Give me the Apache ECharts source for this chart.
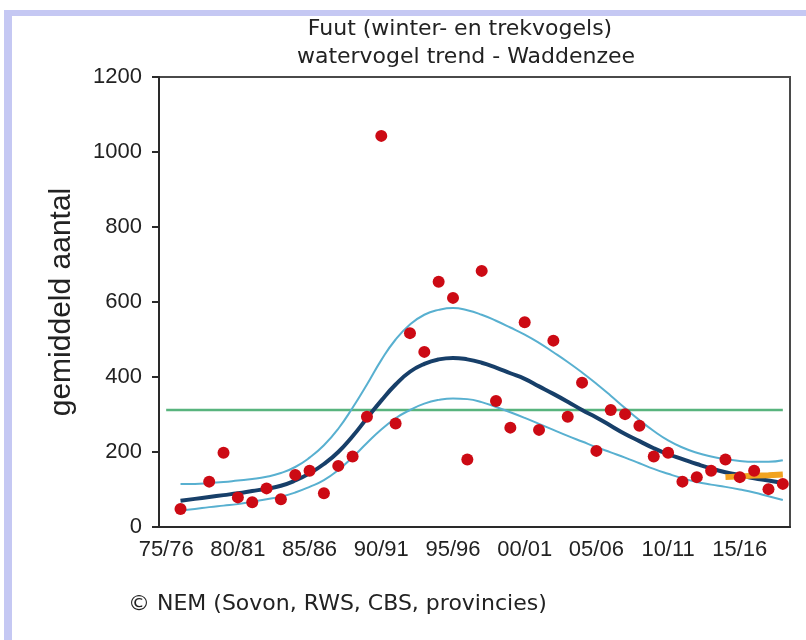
<!DOCTYPE html>
<html>
<head>
<meta charset="utf-8">
<script src="https://cdn.jsdelivr.net/npm/echarts@6/dist/echarts.min.js"></script>
<style>
  html, body { margin: 0; padding: 0; background: #fff; }
  #main { width: 806px; height: 640px; }
</style>
</head>
<body>
<div id="main"></div>
<script>
// seizoenen 1975/76 .. 2018/19
var years = [];
for (var y = 1975; y <= 2018; y++) years.push(y);

var seasonLabels = years.map(function (y) {
    var a = String(y).slice(2), b = String(y + 1).slice(2);
    return a + '/' + b;
});

// getelde aantallen (rode punten)
var counts = [null, 48, null, 121, 198, 79, 66, 103, 74, 139,
              150, 90, 163, 188, 294, 1043, 276, 517, 467, 654,
              611, 180, 683, 336, 265, 546, 259, 497, 294, 385,
              203, 312, 301, 270, 188, 198, 121, 133, 150, 180,
              133, 150, 101, 115];

// trendlijn
var trend = [null, 70, 75, 80, 85, 90, 96, 102, 110, 124,
             143, 168, 200, 242, 290, 337, 380, 414, 435, 447,
             451, 447, 438, 425, 410, 395, 375, 355, 334, 312,
             292, 270, 248, 229, 210, 194, 181, 168, 156, 146,
             138, 130, 124, 117];

// betrouwbaarheidsband boven / onder
var upper = [null, 115, 115, 117, 120, 124, 128, 134, 144, 160,
             185, 218, 262, 318, 380, 445, 500, 540, 566, 579,
             584, 578, 566, 550, 532, 513, 491, 466, 440, 412,
             382, 350, 317, 285, 256, 231, 212, 198, 188, 181,
             176, 174, 174, 178];
var lower = [null, 44, 48, 53, 57, 61, 67, 74, 81, 92,
             107, 125, 152, 186, 224, 260, 290, 312, 329, 339,
             343, 341, 333, 320, 306, 291, 275, 259, 243, 228,
             213, 199, 185, 170, 155, 142, 130, 120, 113, 107,
             100, 92, 82, 72];

// referentieniveau (groene lijn)
var referenceLevel = 312;
var reference = years.map(function () { return referenceLevel; });

// korte oranje lijn, laatste seizoenen 2014/15 .. 2018/19
var recentValues = [133, 135, 137, 138, 140];
var recent = years.map(function (y) {
    return y >= 2014 ? recentValues[y - 2014] : null;
});

var yTicks = { min: 0, max: 1200, interval: 200 };

var labelFont = '"Liberation Sans", Arial';
var textFont = '"DejaVu Sans", Verdana';

var myChart = echarts.init(document.getElementById('main'));
myChart.setOption({
    backgroundColor: '#ffffff',
    animation: false,
    grid: {
        left: 159, right: 16, top: 77, bottom: 113,
        show: true, borderColor: '#4a4a4a', borderWidth: 2,
        backgroundColor: 'transparent'
    },
    graphic: [
        { type: 'rect', shape: { x: 4, y: 10, width: 802, height: 6 }, style: { fill: '#c5c8f3' } },
        { type: 'rect', shape: { x: 4, y: 10, width: 8, height: 630 }, style: { fill: '#c5c8f3' } },
        {
            type: 'text', x: 460, y: 29,
            style: {
                text: 'Fuut (winter- en trekvogels)', align: 'center', verticalAlign: 'middle',
                fontFamily: textFont, fontSize: 22, fill: '#222'
            }
        },
        {
            type: 'text', x: 466, y: 57,
            style: {
                text: 'watervogel trend - Waddenzee', align: 'center', verticalAlign: 'middle',
                fontFamily: textFont, fontSize: 22, fill: '#222'
            }
        },
        {
            type: 'text', x: 128, y: 604,
            style: {
                text: '\u00a9 NEM (Sovon, RWS, CBS, provincies)', align: 'left', verticalAlign: 'middle',
                fontFamily: textFont, fontSize: 22, fill: '#222'
            }
        }
    ],
    xAxis: {
        type: 'category',
        data: seasonLabels,
        boundaryGap: true,
        axisLine: { lineStyle: { color: '#2a2a2a', width: 2 } },
        axisTick: { interval: 4, alignWithLabel: true, length: 7, lineStyle: { color: '#2a2a2a', width: 2 } },
        axisLabel: {
            interval: 4, margin: 12, color: '#222',
            fontFamily: labelFont, fontSize: 22
        },
        splitLine: { show: false }
    },
    yAxis: {
        type: 'value',
        min: yTicks.min, max: yTicks.max, interval: yTicks.interval,
        name: 'gemiddeld aantal',
        nameLocation: 'middle',
        nameGap: 82,
        nameTextStyle: { fontFamily: labelFont, fontSize: 30, color: '#222' },
        axisLine: { show: true, lineStyle: { color: '#2a2a2a', width: 2 } },
        axisTick: { show: true, length: 7, lineStyle: { color: '#2a2a2a', width: 2 } },
        axisLabel: {
            margin: 17, color: '#222',
            fontFamily: labelFont, fontSize: 22,
            formatter: function (v) { return String(v); }
        },
        splitLine: { show: false }
    },
    series: [
        {
            name: 'referentie', type: 'line', data: reference,
            symbol: 'none', lineStyle: { color: '#58b47e', width: 2.5 }, z: 2
        },
        {
            name: 'bovengrens', type: 'line', data: upper, smooth: true,
            symbol: 'none', lineStyle: { color: '#58b0d0', width: 2 }, z: 3
        },
        {
            name: 'ondergrens', type: 'line', data: lower, smooth: true,
            symbol: 'none', lineStyle: { color: '#58b0d0', width: 2 }, z: 3
        },
        {
            name: 'trend', type: 'line', data: trend, smooth: true,
            symbol: 'none', lineStyle: { color: '#173f69', width: 4 }, z: 4
        },
        {
            name: 'recent', type: 'line', data: recent,
            symbol: 'none', lineStyle: { color: '#f2a320', width: 6 }, z: 5
        },
        {
            name: 'telling', type: 'scatter', data: counts,
            symbolSize: 12, itemStyle: { color: '#cc0a14', opacity: 1 }, z: 6
        }
    ]
});
</script>
</body>
</html>
